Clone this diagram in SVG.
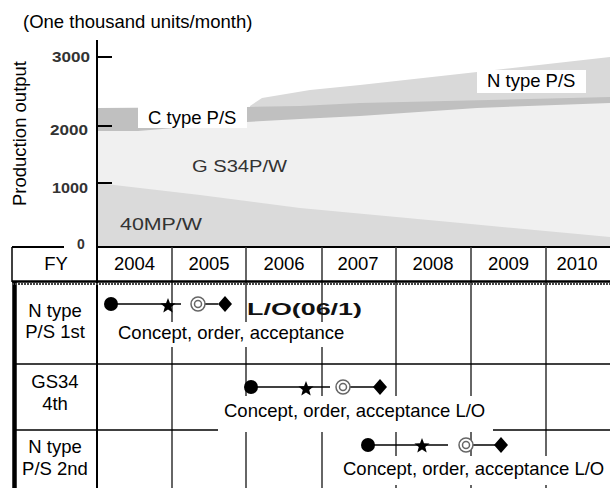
<svg xmlns="http://www.w3.org/2000/svg" xmlns:xlink="http://www.w3.org/1999/xlink" width="610" height="488" viewBox="0 0 610 488">
<style>
  .t { font-family: "Liberation Sans", Arial, sans-serif; font-size: 18.5px; fill: #000; }
  .c { text-anchor: middle; }
  .tick { font-family: "Liberation Sans", Arial, sans-serif; font-weight: bold; fill: #333; }
  .pix { font-family: "Liberation Sans", Arial, sans-serif; font-size: 16px; fill: #333; }
  .grid { stroke: #333; stroke-width: 1.5; fill: none; }
  .bold { stroke: #000; stroke-width: 2; fill: none; }
  .conn { stroke: #000; stroke-width: 1.5; fill: none; }
  .box { fill: #fff; }
</style>
<defs>
  <circle id="dot" r="7" fill="#000"/>
  <polygon id="star" points="0,-8 2,-2.75 7.61,-2.47 3.23,1.05 4.7,6.47 0,3.4 -4.7,6.47 -3.23,1.05 -7.61,-2.47 -2,-2.75" fill="#000"/>
  <g id="dcirc"><circle r="7" fill="#fff" stroke="#666" stroke-width="1.5"/><circle r="3.5" fill="#fff" stroke="#666" stroke-width="1.5"/></g>
  <polygon id="diam" points="0,-8 7,0 0,8 -7,0" fill="#000"/>
</defs>
<rect width="610" height="488" fill="#fff"/>

<!-- chart bands -->
<g id="chart">
  <polygon id="band-n" fill="#d9d9d9" points="250,106 262,98 310,90 360,85 477,72 610,57 610,247 250,247"/>
  <polygon id="band-c" fill="#c0c0c0" points="97,108 247,107 300,106 360,103 610,97 610,247 97,247"/>
  <polygon id="band-gs" fill="#f0f0f0" points="97,131 138,131 247,122 300,119 360,116 477,108 610,103 610,247 97,247"/>
  <polygon id="band-40" fill="#dadada" points="97,183 200,195 300,208 450,222 610,237 610,247 97,247"/>
  <g id="label-c"><rect class="box" x="138" y="105" width="109" height="23"/><text class="t" x="148" y="124" font-size="18">C type P/S</text></g>
  <g id="label-n"><rect class="box" x="477" y="70" width="109" height="23"/><text class="t" x="487" y="87" font-size="18">N type P/S</text></g>
  <text class="pix" x="192" y="172" textLength="95" lengthAdjust="spacingAndGlyphs">G S34P/W</text>
  <text class="pix" x="120" y="230" textLength="82" lengthAdjust="spacingAndGlyphs">40MP/W</text>
</g>

<!-- axis -->
<g id="axis">
  <text class="t" x="23" y="28">(One thousand units/month)</text>
  <text class="t c" transform="translate(26,133.5) rotate(-90)" font-size="18.2">Production output</text>
  <line class="bold" x1="97" y1="40" x2="97" y2="488"/>
  <line class="bold" x1="97" y1="57" x2="112" y2="57"/>
  <line class="bold" x1="97" y1="126" x2="112" y2="126"/>
  <line class="bold" x1="97" y1="183" x2="112" y2="183"/>
  <text class="tick" x="52" y="62" font-size="14" textLength="38" lengthAdjust="spacingAndGlyphs">3000</text>
  <text class="tick" x="50" y="135" font-size="14" textLength="38" lengthAdjust="spacingAndGlyphs">2000</text>
  <text class="tick" x="52" y="193" font-size="14" textLength="36" lengthAdjust="spacingAndGlyphs">1000</text>
  <text class="tick" x="77" y="249" font-size="14">0</text>
</g>

<!-- table -->
<g id="table">
  <line class="bold" x1="12" y1="247" x2="64" y2="247"/>
  <line class="bold" x1="97" y1="247" x2="610" y2="247"/>
  <line class="conn" x1="12" y1="247" x2="12" y2="282"/>
  <line stroke="#000" stroke-width="4.5" x1="14.5" y1="281" x2="14.5" y2="488"/>
  <line class="grid" x1="172" y1="247" x2="172" y2="488"/>
  <line class="grid" x1="246" y1="247" x2="246" y2="488"/>
  <line class="grid" x1="322" y1="247" x2="322" y2="488"/>
  <line class="grid" x1="396" y1="247" x2="396" y2="488"/>
  <line class="grid" x1="471" y1="247" x2="471" y2="488"/>
  <line class="grid" x1="546" y1="247" x2="546" y2="488"/>
  <line stroke="#000" stroke-width="2.5" x1="12" y1="281.5" x2="610" y2="281.5"/>
  <line stroke="#444" stroke-width="2" stroke-dasharray="2 1" x1="12" y1="284" x2="610" y2="284"/>
  <line stroke="#000" stroke-width="1.5" x1="14" y1="364" x2="610" y2="364"/>
  <line stroke="#000" stroke-width="1.5" x1="14" y1="430" x2="610" y2="430"/>
  <text class="t c" x="56" y="270">FY</text>
  <text class="t c" x="134.5" y="270">2004</text>
  <text class="t c" x="209" y="270">2005</text>
  <text class="t c" x="284" y="270">2006</text>
  <text class="t c" x="358" y="270">2007</text>
  <text class="t c" x="433" y="270">2008</text>
  <text class="t c" x="508.5" y="270">2009</text>
  <text class="t c" x="577" y="270">2010</text>
  <text class="t c" x="55" y="317">N type</text>
  <text class="t c" x="55" y="338">P/S 1st</text>
  <text class="t c" x="55" y="388">GS34</text>
  <text class="t c" x="55" y="410">4th</text>
  <text class="t c" x="55" y="453">N type</text>
  <text class="t c" x="55" y="475">P/S 2nd</text>
</g>

<!-- connectors -->
<g id="connectors">
  <line class="conn" x1="111" y1="304" x2="181" y2="304"/>
  <line class="conn" x1="205" y1="304" x2="218" y2="304"/>
  <line class="conn" x1="251" y1="387" x2="330" y2="387"/>
  <line class="conn" x1="343" y1="387" x2="380" y2="387"/>
  <line class="conn" x1="368" y1="445" x2="448" y2="445"/>
  <line class="conn" x1="466" y1="445" x2="501" y2="445"/>
</g>

<!-- row 1 -->
<g id="row1">
  <use xlink:href="#dot" x="111" y="304"/>
  <use xlink:href="#star" x="168" y="306"/>
  <use xlink:href="#dcirc" x="198" y="304"/>
  <use xlink:href="#diam" x="225" y="304"/>
  <text x="247" y="315" font-family="'Liberation Sans', Arial, sans-serif" font-size="17" font-weight="bold" fill="#111" textLength="115" lengthAdjust="spacingAndGlyphs">L/O(06/1)</text>
  <rect class="box" x="113" y="322" width="236" height="25"/>
  <text class="t" x="118" y="339">Concept, order, acceptance</text>
</g>

<!-- row 2 -->
<g id="row2">
  <use xlink:href="#dot" x="251" y="387"/>
  <use xlink:href="#star" x="306" y="389"/>
  <use xlink:href="#dcirc" x="343" y="387"/>
  <use xlink:href="#diam" x="380" y="387"/>
  <rect class="box" x="218" y="396" width="275" height="36"/>
  <text class="t" x="224" y="417">Concept, order, acceptance L/O</text>
</g>

<!-- row 3 -->
<g id="row3">
  <use xlink:href="#dot" x="368" y="445"/>
  <use xlink:href="#star" x="422" y="446"/>
  <use xlink:href="#dcirc" x="466" y="445"/>
  <use xlink:href="#diam" x="501" y="445"/>
  <rect class="box" x="340" y="456" width="270" height="29"/>
  <text class="t" x="343" y="475">Concept, order, acceptance L/O</text>
</g>
</svg>
